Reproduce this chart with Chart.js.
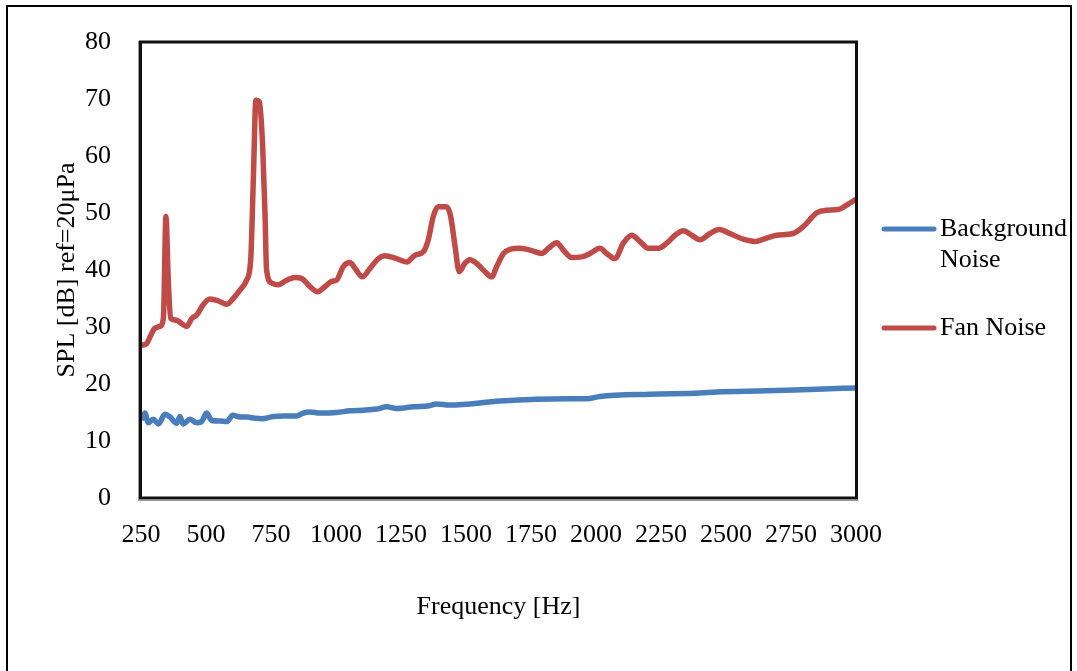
<!DOCTYPE html>
<html>
<head>
<meta charset="utf-8">
<script src="https://cdn.jsdelivr.net/npm/chart.js@4"></script>
<style>
	html, body { margin: 0; padding: 0; background: #fff; }
	#wrap { width: 1077px; height: 671px; position: relative; }
</style>
</head>
<body>
<div id="wrap"><canvas id="chart" width="1077" height="671"></canvas></div>
<script>

//
// data
//

const fanLabel = 'Fan Noise';
const fanFreq = [252, 272, 285, 304, 323, 336, 346, 355, 364, 387, 406, 426, 445, 464, 489, 515, 547, 580, 605, 631, 656, 672, 682, 692, 705, 718, 727, 733, 753, 778, 810, 842, 868, 900, 929, 958, 983, 1002, 1028, 1054, 1073, 1101, 1131, 1163, 1188, 1227, 1272, 1304, 1336, 1355, 1374, 1393, 1425, 1441, 1458, 1474, 1496, 1515, 1547, 1573, 1599, 1618, 1644, 1669, 1708, 1753, 1791, 1817, 1849, 1874, 1907, 1945, 1977, 2015, 2041, 2073, 2105, 2137, 2169, 2201, 2240, 2272, 2304, 2336, 2368, 2400, 2438, 2474, 2515, 2566, 2612, 2656, 2695, 2758, 2797, 2848, 2887, 2932, 2964, 3000];
const fanSpl = [26.8, 27.1, 28.3, 29.8, 30.1, 31.5, 49.4, 38.2, 31.5, 31.2, 30.6, 30.1, 31.5, 32.1, 33.9, 34.9, 34.6, 34.0, 35.0, 36.5, 38.2, 41.8, 55.8, 69.8, 69.5, 61.6, 49.9, 40.0, 37.7, 37.4, 38.2, 38.7, 38.5, 37.1, 36.2, 37.1, 38.0, 38.2, 40.6, 41.3, 40.3, 38.8, 40.3, 42.0, 42.5, 42.1, 41.4, 42.6, 43.2, 45.3, 49.4, 51.1, 51.1, 49.4, 44.1, 39.7, 41.2, 41.8, 40.9, 39.7, 38.8, 40.6, 42.9, 43.6, 43.8, 43.4, 42.9, 43.8, 44.8, 43.5, 42.2, 42.3, 42.9, 43.8, 42.9, 42.0, 44.7, 46.1, 45.0, 43.8, 43.8, 44.7, 46.1, 46.9, 46.1, 45.3, 46.4, 47.1, 46.4, 45.4, 45.0, 45.6, 46.1, 46.4, 47.6, 50.0, 50.5, 50.6, 51.4, 52.4];

const bgLabel = 'Background Noise';
const bgFreq = [252, 265, 278, 297, 317, 342, 362, 387, 400, 412, 438, 464, 483, 502, 522, 554, 580, 603, 631, 656, 688, 714, 759, 797, 849, 874, 900, 938, 1002, 1054, 1105, 1156, 1195, 1233, 1297, 1359, 1387, 1438, 1631, 1887, 1964, 2015, 2208, 2400, 2464, 2656, 2848, 3000];
const bgSpl = [13.7, 14.9, 13.2, 13.8, 13.0, 14.7, 14.2, 13.1, 14.3, 13.0, 13.8, 13.2, 13.4, 14.9, 13.6, 13.5, 13.4, 14.5, 14.2, 14.2, 14.0, 13.9, 14.3, 14.4, 14.4, 14.9, 15.1, 14.9, 15.0, 15.3, 15.4, 15.6, 16.0, 15.7, 16.0, 16.2, 16.5, 16.3, 17.0, 17.4, 17.4, 17.8, 18.2, 18.4, 18.6, 18.8, 19.1, 19.3];

const xTicks = [250, 500, 750, 1000, 1250, 1500, 1750, 2000, 2250, 2500, 2750, 3000];
const yTicks = [0, 10, 20, 30, 40, 50, 60, 70, 80];

const xTitle = 'Frequency [Hz]';
const yTitle = 'SPL [dB] ref=20\u03bcPa';

//
// helpers
//

function toPoints(xs, ys) {
	let points = [];
	for (let i = 0; i < xs.length; i++) {
		points.push({x: xs[i], y: ys[i]});
	}
	return points;
}

const font = {family: '"Liberation Serif", "Times New Roman", serif', size: 26};
const blue = '#4a7ebb';
const red = '#be4b48';

// draws the outer frame and the plot box
//
const framePlugin = {
	id: 'frame',
	afterDatasetsDraw: function(chart) {
		const ctx = chart.ctx;
		const a = chart.chartArea;
		ctx.save();

		// plot box shadow
		ctx.strokeStyle = '#999';
		ctx.lineWidth = 1;
		ctx.strokeRect(a.left - 2.5, a.top - 0.5, a.right - a.left + 4, a.bottom - a.top + 3);

		// plot box
		ctx.strokeStyle = '#111';
		ctx.lineWidth = 3;
		ctx.strokeRect(a.left - 0.5, a.top, a.right - a.left + 1, a.bottom - a.top);

		// outer frame
		ctx.strokeStyle = '#000';
		ctx.lineWidth = 2;
		ctx.beginPath();
		ctx.moveTo(7, 680);
		ctx.lineTo(7, 6);
		ctx.lineTo(1071, 6);
		ctx.lineTo(1071, 680);
		ctx.stroke();
		ctx.restore();
	}
};

// draws the legend to the right of the plot
//
const legendPlugin = {
	id: 'sideLegend',
	afterDraw: function(chart) {
		const ctx = chart.ctx;
		const rows = [
			{lines: ['Background', 'Noise'], y: 229},
			{lines: ['Fan Noise'], y: 328}
		];
		ctx.save();
		ctx.font = font.size + 'px ' + font.family;
		ctx.textBaseline = 'middle';
		ctx.fillStyle = '#000';
		chart.data.datasets.forEach(function(ds, i) {
			let row = rows[i];
			ctx.strokeStyle = ds.borderColor;
			ctx.lineWidth = 5;
			ctx.lineCap = 'round';
			ctx.beginPath();
			ctx.moveTo(884, row.y);
			ctx.lineTo(934, row.y);
			ctx.stroke();
			row.lines.forEach(function(line, j) {
				ctx.fillText(line, 940, row.y + j * 31);
			});
		});
		ctx.restore();
	}
};

new Chart(document.getElementById('chart').getContext('2d'), {
	type: 'line',
	data: {
		datasets: [{
			label: bgLabel,
			data: toPoints(bgFreq, bgSpl),
			borderColor: blue,
			backgroundColor: blue,
			borderWidth: 5.5,
			pointRadius: 0,
			cubicInterpolationMode: 'monotone'
		}, {
			label: fanLabel,
			data: toPoints(fanFreq, fanSpl),
			borderColor: red,
			backgroundColor: red,
			borderWidth: 5.5,
			pointRadius: 0,
			cubicInterpolationMode: 'monotone'
		}]
	},
	options: {
		responsive: false,
		animation: false,
		layout: {
			padding: {left: 0, right: 221, top: 42, bottom: 0}
		},
		plugins: {
			legend: { display: false },
			tooltip: { enabled: false }
		},
		scales: {
			x: {
				type: 'linear',
				min: 250,
				max: 3000,
				afterBuildTicks: function(scale) {
					scale.ticks = xTicks.map(function(v) { return {value: v}; });
				},
				afterFit: function(scale) {
					scale.height = 173;
				},
				grid: { display: false },
				border: { display: false },
				ticks: {
					color: '#000',
					font: font,
					padding: 14,
					maxRotation: 0,
					autoSkip: false,
					callback: function(value) { return String(value); }
				},
				title: {
					display: true,
					text: xTitle,
					color: '#000',
					font: font,
					padding: {top: 0, bottom: 48}
				}
			},
			y: {
				min: 0,
				max: 80,
				afterBuildTicks: function(scale) {
					scale.ticks = yTicks.map(function(v) { return {value: v}; });
				},
				afterFit: function(scale) {
					scale.width = 141;
				},
				grid: { display: false },
				border: { display: false },
				ticks: {
					color: '#000',
					font: font,
					padding: 22,
					callback: function(value) { return String(value); }
				},
				title: {
					display: true,
					text: yTitle,
					color: '#000',
					font: font,
					padding: {top: 52, bottom: 0}
				}
			}
		}
	},
	plugins: [framePlugin, legendPlugin]
});
</script>
</body>
</html>
